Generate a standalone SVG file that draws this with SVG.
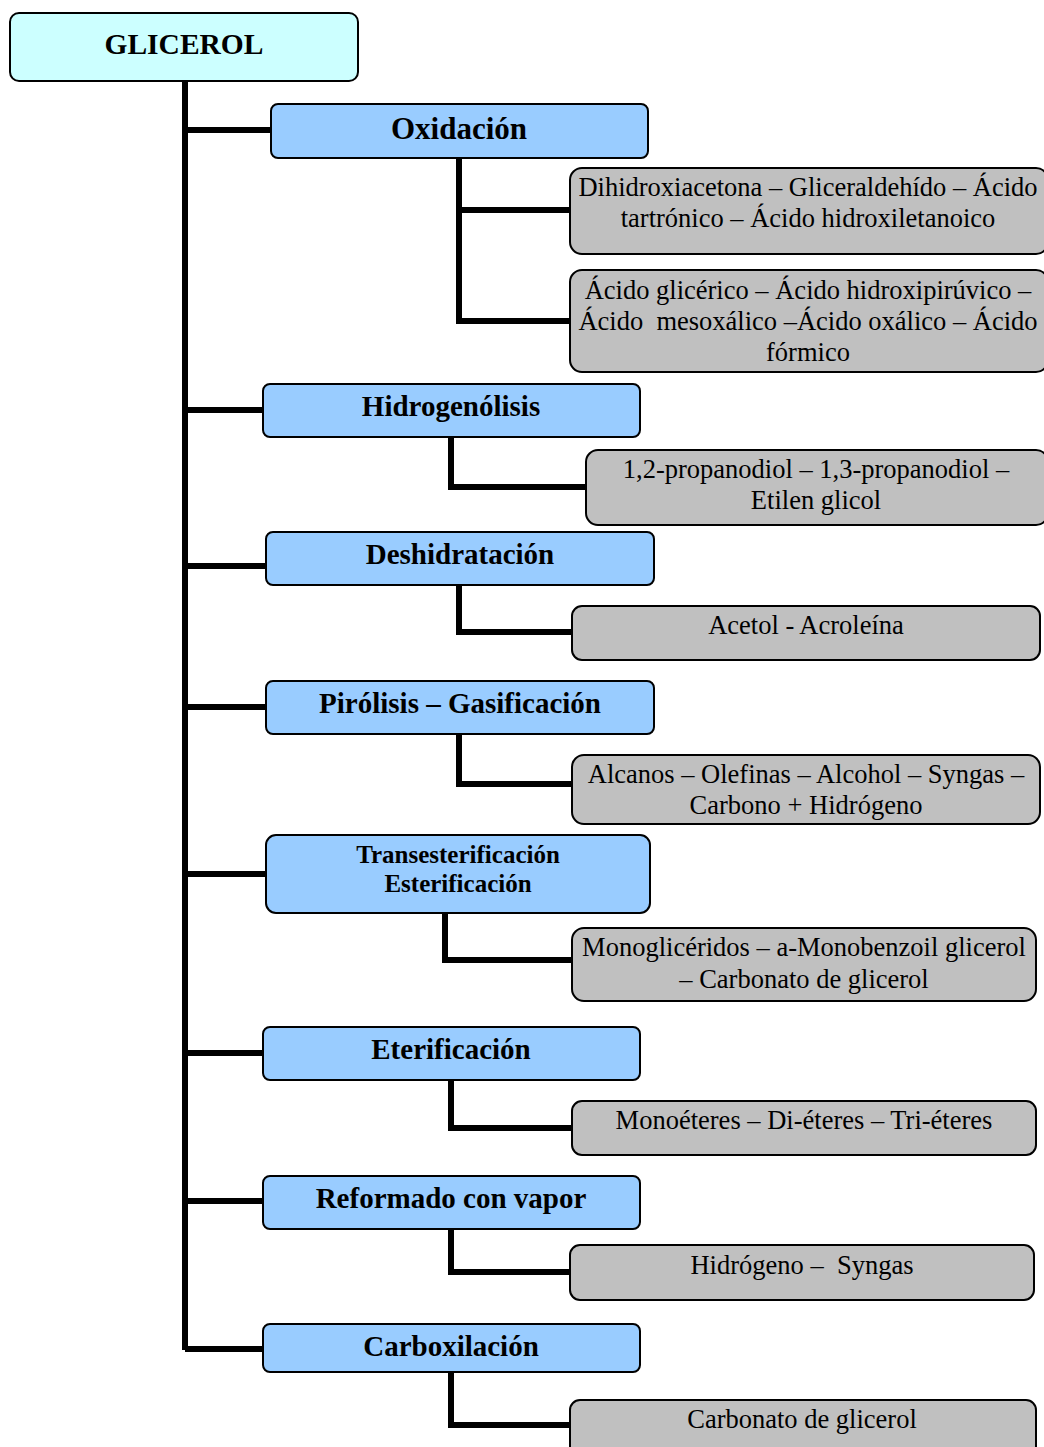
<svg xmlns="http://www.w3.org/2000/svg" width="1044" height="1447" viewBox="0 0 1044 1447">
<style>
.root{fill:#CCFFFF;stroke:#000;stroke-width:2}
.proc{fill:#99CCFF;stroke:#000;stroke-width:2}
.prod{fill:#C0C0C0;stroke:#000;stroke-width:2}
.t{font-family:"Liberation Serif","Times New Roman",serif;text-anchor:middle;fill:#000}
.tb{font-weight:bold;font-size:29px}
.tp{font-size:26.5px}
.c{fill:none;stroke:#000;stroke-width:6;stroke-linejoin:miter}
</style>
<rect width="1044" height="1447" fill="#fff"/>
<g id="connectors">
<path class="c" d="M185 81 V1350"/>
<path class="c" d="M185 130 H271 M185 410 H263 M185 566 H266 M185 707 H266 M185 874 H266 M185 1053 H263 M185 1201 H263 M185 1349 H263"/>
<path class="c" d="M459 158 V321 H570 M459 210 H570"/>
<path class="c" d="M451 437 V487 H586"/>
<path class="c" d="M459 585 V632 H572"/>
<path class="c" d="M459 734 V784 H572"/>
<path class="c" d="M445 913 V960 H572"/>
<path class="c" d="M451 1080 V1128 H572"/>
<path class="c" d="M451 1229 V1272 H570"/>
<path class="c" d="M451 1372 V1425 H570"/>
</g>
<g id="glicerol"><rect class="root" x="10" y="13" width="348" height="68" rx="9"/><text class="t" x="184" y="54" font-weight="bold" font-size="29.5">GLICEROL</text></g>
<g id="oxidacion"><rect class="proc" x="271" y="104" width="377" height="54" rx="7"/><text class="t" x="459" y="139" font-weight="bold" font-size="31">Oxidación</text></g>
<g id="ox1"><rect class="prod" x="570" y="168" width="478" height="86" rx="12"/><text class="t tp" x="808" y="196">Dihidroxiacetona – Gliceraldehído – Ácido</text><text class="t tp" x="808" y="227">tartrónico – Ácido hidroxiletanoico</text></g>
<g id="ox2"><rect class="prod" x="570" y="270" width="478" height="102" rx="12"/><text class="t tp" x="808" y="299">Ácido glicérico – Ácido hidroxipirúvico –</text><text class="t tp" x="808" y="330" xml:space="preserve">Ácido  mesoxálico –Ácido oxálico – Ácido</text><text class="t tp" x="808" y="361">fórmico</text></g>
<g id="hidrogenolisis"><rect class="proc" x="263" y="384" width="377" height="53" rx="7"/><text class="t tb" x="451" y="416">Hidrogenólisis</text></g>
<g id="hid1"><rect class="prod" x="586" y="450" width="462" height="75" rx="12"/><text class="t tp" x="816" y="478">1,2-propanodiol – 1,3-propanodiol –</text><text class="t tp" x="816" y="509">Etilen glicol</text></g>
<g id="deshidratacion"><rect class="proc" x="266" y="532" width="388" height="53" rx="7"/><text class="t tb" x="460" y="564">Deshidratación</text></g>
<g id="des1"><rect class="prod" x="572" y="606" width="468" height="54" rx="10"/><text class="t tp" x="806" y="634">Acetol - Acroleína</text></g>
<g id="pirolisis"><rect class="proc" x="266" y="681" width="388" height="53" rx="7"/><text class="t tb" x="460" y="713">Pirólisis – Gasificación</text></g>
<g id="pir1"><rect class="prod" x="572" y="755" width="468" height="69" rx="12"/><text class="t tp" x="806" y="783">Alcanos – Olefinas – Alcohol – Syngas –</text><text class="t tp" x="806" y="814">Carbono + Hidrógeno</text></g>
<g id="transesterificacion"><rect class="proc" x="266" y="835" width="384" height="78" rx="10"/><text class="t" x="458" y="863" font-weight="bold" font-size="25">Transesterificación</text><text class="t" x="458" y="892" font-weight="bold" font-size="25">Esterificación</text></g>
<g id="tra1"><rect class="prod" x="572" y="928" width="464" height="73" rx="12"/><text class="t tp" x="804" y="956">Monoglicéridos – a-Monobenzoil glicerol</text><text class="t tp" x="804" y="988">– Carbonato de glicerol</text></g>
<g id="eterificacion"><rect class="proc" x="263" y="1027" width="377" height="53" rx="7"/><text class="t tb" x="451" y="1059">Eterificación</text></g>
<g id="ete1"><rect class="prod" x="572" y="1101" width="464" height="54" rx="10"/><text class="t tp" x="804" y="1129">Monoéteres – Di-éteres – Tri-éteres</text></g>
<g id="reformado"><rect class="proc" x="263" y="1176" width="377" height="53" rx="7"/><text class="t tb" x="451" y="1208">Reformado con vapor</text></g>
<g id="ref1"><rect class="prod" x="570" y="1245" width="464" height="55" rx="10"/><text class="t tp" x="802" y="1274" xml:space="preserve">Hidrógeno –  Syngas</text></g>
<g id="carboxilacion"><rect class="proc" x="263" y="1324" width="377" height="48" rx="7"/><text class="t tb" x="451" y="1356">Carboxilación</text></g>
<g id="car1"><rect class="prod" x="570" y="1400" width="466" height="60" rx="10"/><text class="t tp" x="802" y="1428">Carbonato de glicerol</text></g>
</svg>
